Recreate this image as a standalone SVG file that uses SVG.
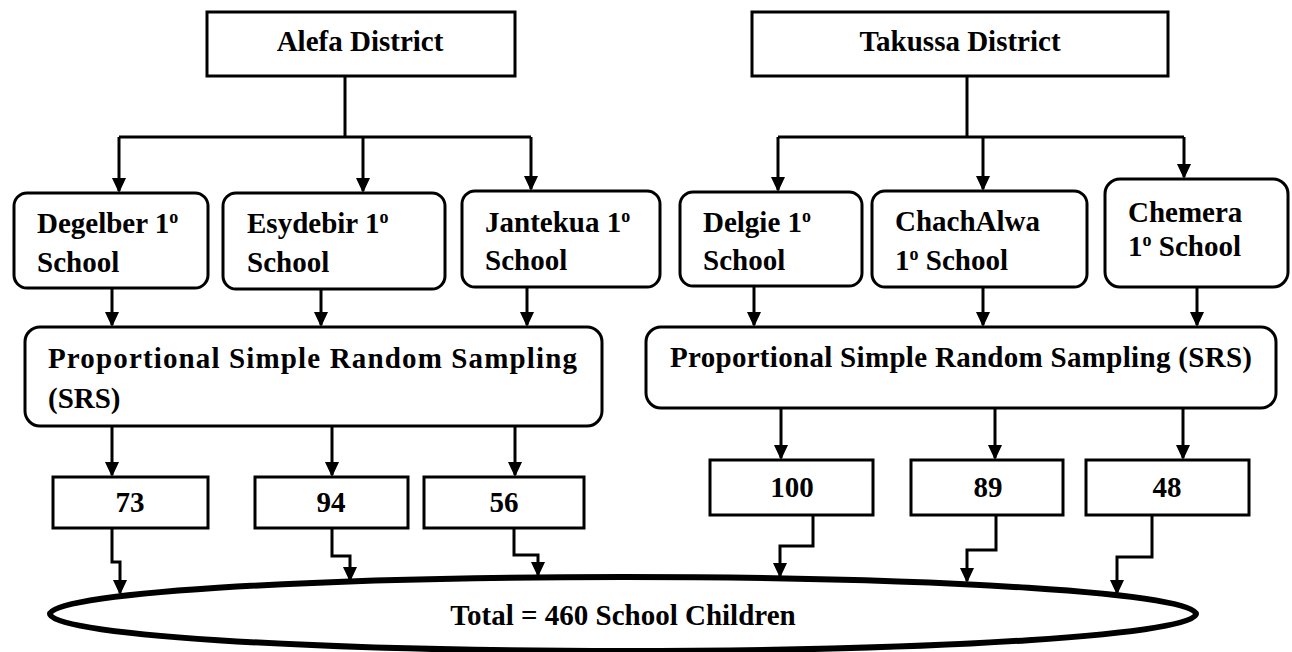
<svg xmlns="http://www.w3.org/2000/svg" width="1292" height="652" viewBox="0 0 1292 652">
<style>
.box{fill:#fff;stroke:#000;stroke-width:3}
.t{font-family:"Liberation Serif","Times New Roman",serif;font-weight:bold;font-size:29px;fill:#000}
.c{text-anchor:middle}
.ln{fill:none;stroke:#000;stroke-width:3}
</style>
<defs>
<marker id="ah" markerUnits="userSpaceOnUse" markerWidth="15" markerHeight="14" refX="13" refY="7" orient="auto">
<path d="M0,0 L15,7 L0,14 z" fill="#000"/>
</marker>
</defs>
<rect width="1292" height="652" fill="#fff"/>
<g id="connectors">
<path class="ln" d="M345,76 V137 M119,137 H531 M967,76 V137 M778,137 H1184"/>
<path class="ln" marker-end="url(#ah)" d="M119,137 V191"/>
<path class="ln" marker-end="url(#ah)" d="M363,137 V191"/>
<path class="ln" marker-end="url(#ah)" d="M531,137 V189"/>
<path class="ln" marker-end="url(#ah)" d="M778,137 V190"/>
<path class="ln" marker-end="url(#ah)" d="M983,137 V189"/>
<path class="ln" marker-end="url(#ah)" d="M1184,137 V177"/>
<path class="ln" marker-end="url(#ah)" d="M112,288 V325"/>
<path class="ln" marker-end="url(#ah)" d="M321,289 V325"/>
<path class="ln" marker-end="url(#ah)" d="M527,287 V325"/>
<path class="ln" marker-end="url(#ah)" d="M754,286 V325"/>
<path class="ln" marker-end="url(#ah)" d="M983,287 V325"/>
<path class="ln" marker-end="url(#ah)" d="M1197,287 V325"/>
<path class="ln" marker-end="url(#ah)" d="M112,426 V475"/>
<path class="ln" marker-end="url(#ah)" d="M332,426 V475"/>
<path class="ln" marker-end="url(#ah)" d="M515,426 V475"/>
<path class="ln" marker-end="url(#ah)" d="M781,408 V458"/>
<path class="ln" marker-end="url(#ah)" d="M995,408 V458"/>
<path class="ln" marker-end="url(#ah)" d="M1183,408 V458"/>
<path class="ln" marker-end="url(#ah)" d="M112,528 V562 H120 V593"/>
<path class="ln" marker-end="url(#ah)" d="M332,528 V556 H350 V580"/>
<path class="ln" marker-end="url(#ah)" d="M514,528 V555 H538 V575"/>
<path class="ln" marker-end="url(#ah)" d="M813,515 V546 H780 V576"/>
<path class="ln" marker-end="url(#ah)" d="M996,515 V550 H967 V581"/>
<path class="ln" marker-end="url(#ah)" d="M1152,515 V557 H1117 V593"/>
</g>
<g id="alefa">
<rect class="box" x="207" y="12" width="308" height="64"/>
<text class="t c" x="360" y="51">Alefa District</text>
</g>
<g id="takussa">
<rect class="box" x="752" y="12" width="416" height="64"/>
<text class="t c" x="960" y="51">Takussa District</text>
</g>
<g id="degelber">
<rect class="box" x="14" y="193" width="194" height="95" rx="13"/>
<text class="t" x="37" y="233">Degelber 1<tspan dy="-10" font-size="18">o</tspan></text>
<text class="t" x="37" y="272">School</text>
</g>
<g id="esydebir">
<rect class="box" x="223" y="193" width="222" height="96" rx="13"/>
<text class="t" x="247" y="233">Esydebir 1<tspan dy="-10" font-size="18">o</tspan></text>
<text class="t" x="247" y="272">School</text>
</g>
<g id="jantekua">
<rect class="box" x="462" y="191" width="198" height="96" rx="13"/>
<text class="t" x="485" y="232">Jantekua 1<tspan dy="-10" font-size="18">o</tspan></text>
<text class="t" x="485" y="270">School</text>
</g>
<g id="delgie">
<rect class="box" x="680" y="192" width="182" height="94" rx="13"/>
<text class="t" x="703" y="232">Delgie 1<tspan dy="-10" font-size="18">o</tspan></text>
<text class="t" x="703" y="270">School</text>
</g>
<g id="chachalwa">
<rect class="box" x="872" y="191" width="215" height="96" rx="13"/>
<text class="t" x="895" y="231">ChachAlwa</text>
<text class="t" x="895" y="270">1<tspan dy="-10" font-size="18">o</tspan><tspan dy="10"> School</tspan></text>
</g>
<g id="chemera">
<rect class="box" x="1105" y="179" width="183" height="108" rx="15"/>
<text class="t" x="1128" y="222">Chemera</text>
<text class="t" x="1128" y="256">1<tspan dy="-10" font-size="18">o</tspan><tspan dy="10"> School</tspan></text>
</g>
<g id="srs-left">
<rect class="box" x="25" y="327" width="577" height="99" rx="15"/>
<text class="t" x="48" y="368" textLength="529" lengthAdjust="spacing">Proportional Simple Random Sampling</text>
<text class="t" x="48" y="408">(SRS)</text>
</g>
<g id="srs-right">
<rect class="box" x="646" y="327" width="630" height="81" rx="15"/>
<text class="t" x="670" y="367" textLength="582" lengthAdjust="spacing">Proportional Simple Random Sampling (SRS)</text>
</g>
<g id="n73">
<rect class="box" x="53" y="477" width="155" height="51"/>
<text class="t c" x="130" y="512">73</text>
</g>
<g id="n94">
<rect class="box" x="255" y="477" width="153" height="51"/>
<text class="t c" x="331" y="512">94</text>
</g>
<g id="n56">
<rect class="box" x="424" y="477" width="160" height="51"/>
<text class="t c" x="504" y="512">56</text>
</g>
<g id="n100">
<rect class="box" x="710" y="460" width="163" height="55"/>
<text class="t c" x="792" y="497">100</text>
</g>
<g id="n89">
<rect class="box" x="911" y="460" width="152" height="55"/>
<text class="t c" x="988" y="497">89</text>
</g>
<g id="n48">
<rect class="box" x="1086" y="460" width="163" height="55"/>
<text class="t c" x="1167" y="497">48</text>
</g>
<g id="total">
<ellipse cx="623" cy="614" rx="573" ry="37" fill="#fff" stroke="#000" stroke-width="6"/>
<text class="t c" x="623" y="625">Total = 460 School Children</text>
</g>
</svg>
